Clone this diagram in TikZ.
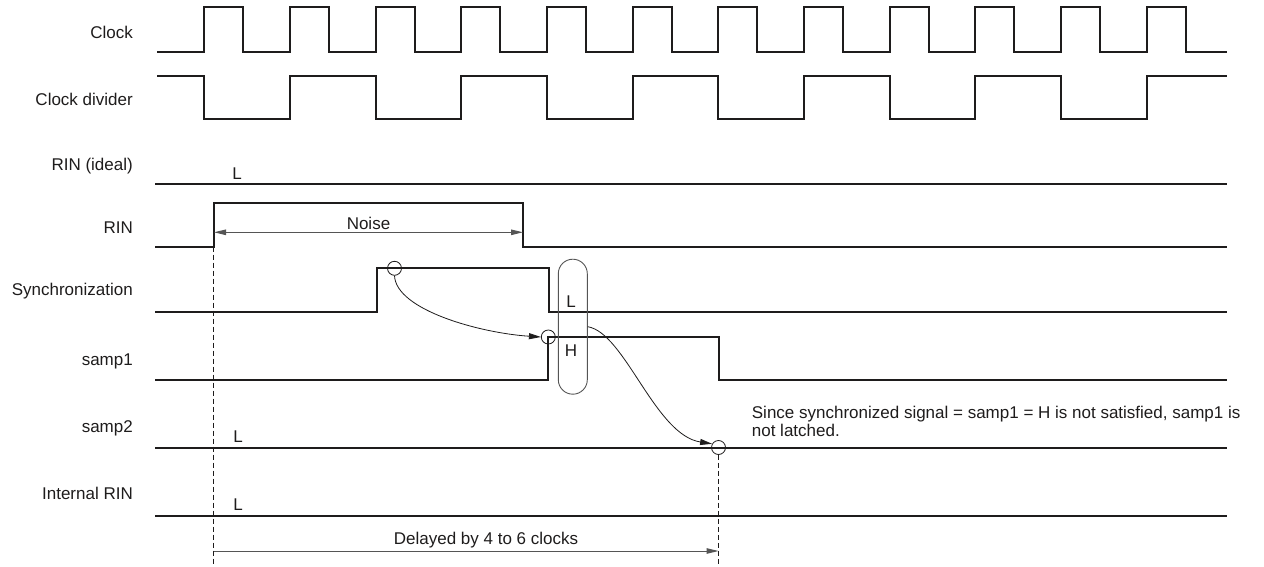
\documentclass[tikz,border=0pt]{standalone}
\usepackage{fontspec}
\setmainfont{Liberation Sans}
\usetikzlibrary{arrows.meta, positioning, calc}
\definecolor{mydark}{RGB}{30,28,28}
\definecolor{mygrey}{RGB}{85,85,85}
\newcommand{\sigfont}{\fontsize{17}{18.5}\selectfont}
\tikzset{
  wave/.style={line width=2pt,color=mydark},
  sig/.style={anchor=east,font=\sigfont,inner sep=0pt,color=mydark},
  lvl/.style={font=\sigfont,inner sep=0pt,color=mydark},
  ring/.style={circle,draw=mydark,minimum size=14pt,inner sep=0pt,line width=0.8pt},
  window/.style={rectangle,draw=mygrey,minimum width=29pt,minimum height=135pt,
    rounded corners=14.5pt,inner sep=0pt,line width=0.9pt},
  link/.style={-{Triangle[length=12pt,width=6pt]},line width=0.8pt,color=mydark},
  dim/.style={{Triangle[length=12pt,width=5.5pt]}-{Triangle[length=12pt,width=5.5pt]},
    line width=1pt,color=mygrey},
  dimr/.style={-{Triangle[length=12pt,width=5.5pt]},line width=1pt,color=mygrey},
  guide/.style={dash pattern=on 5pt off 3pt,line width=0.8pt,color=mydark}
}

\begin{document}
\begin{tikzpicture}[x=1pt,y=-1pt]
  \useasboundingbox (0,0) rectangle (1264,567);

  % signal names
  \node[sig] (lclk)   at (133,32)  {Clock};
  \node[sig] (ldiv)   at (133,99)  {Clock divider};
  \node[sig] (lideal) at (133,166) {RIN (ideal)};
  \node[sig] (lrin)   at (133,228) {RIN};
  \node[sig] (lsync)  at (133,291) {Synchronization};
  \node[sig] (lsa1)   at (133,361) {samp1};
  \node[sig] (lsa2)   at (133,428) {samp2};
  \node[sig] (lint)   at (133,493) {Internal RIN};

  % clock and divider
  \draw[wave] (157,52) \foreach \k in {0,...,11}{
      -- ({204.3+85.67*\k},52) -- ({204.3+85.67*\k},7.5)
      -- ({243.3+85.67*\k},7.5) -- ({243.3+85.67*\k},52)} -- (1227,52);
  \draw[wave] (157,76) \foreach \k in {0,...,5}{
      -- ({204.3+171.34*\k},76) -- ({204.3+171.34*\k},119.5)
      -- ({289.97+171.34*\k},119.5) -- ({289.97+171.34*\k},76)} -- (1227,76);

  % levels
  \draw[wave] (155,183.5) -- (1227,183.5);
  \draw[wave] (155,246.7) -- (213.5,246.7) -- (213.5,203.3) -- (523.3,203.3)
    -- (523.3,246.7) -- (1227,246.7);
  \draw[wave] (155,311.7) -- (376.7,311.7) -- (376.7,268.3) -- (549.3,268.3)
    -- (549.3,311.7) -- (1227,311.7);
  \draw[wave] (155,380) -- (548.3,380) -- (548.3,337.3) -- (718.5,337.3)
    -- (718.5,380.3) -- (1227,380.3);
  \draw[wave] (155,447.5) -- (1227,447.5);
  \draw[wave] (155,515.5) -- (1227,515.5);

  \node[lvl] (lv1) at (237,174) {L};
  \node[lvl] (lv2) at (238,437) {L};
  \node[lvl] (lv3) at (238,505) {L};

  % noise width
  \coordinate (nA) at (214,232.3);
  \coordinate (nB) at (523,232.3);
  \draw[dim] (nA) -- (nB) node[midway,above=2pt,lvl] (noise) {Noise};

  % sampling marks
  \node[ring] (r1) at (394.5,268.3) {};
  \node[ring] (r2) at (548.3,337) {};
  \node[ring] (r3) at (718.5,447.5) {};
  \node[window] (win) at (572.8,326.7) {};
  \node[lvl] (tL) at (571,301.7) {L};
  \node[lvl] (tH) at (571,350.7) {H};

  \draw[link] (r1.south) .. controls (396,310) and (480,333) .. (r2.west);
  \draw[link] (win.east) .. controls (625,333) and (655,435) .. (r3.150);

  \node[lvl, anchor=base west, align=left] (note) at (751.7,436.8)
    {Since synchronized signal = samp1 = H is not satisfied, samp1 is\\not latched.};

  % delay
  \coordinate (dA) at (213.5,246.7);
  \coordinate (dB) at (213.5,566);
  \coordinate (dC) at (718.5,566);
  \coordinate (eA) at (213.5,551);
  \coordinate (eB) at (718.5,551);
  \draw[guide] (dA) -- (dB);
  \draw[guide] (r3.south) -- (dC);
  \draw[dimr] (eA) -- (eB);
  \node[lvl] (delay) at (486,540) {Delayed by 4 to 6 clocks};
\end{tikzpicture}
\end{document}
